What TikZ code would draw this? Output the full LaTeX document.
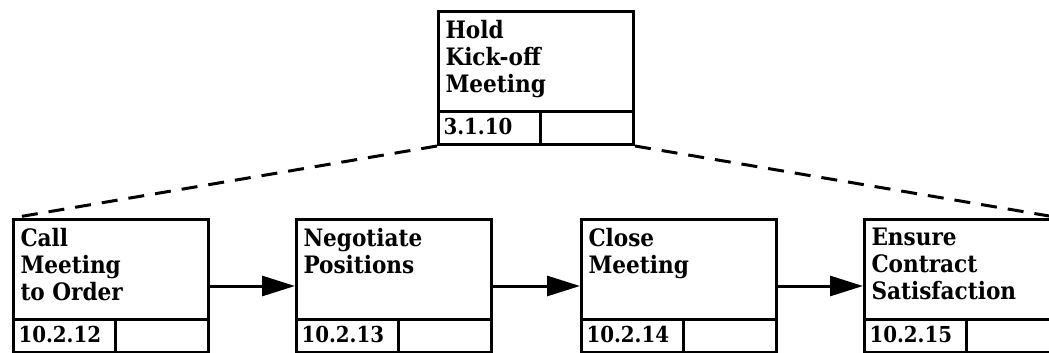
\documentclass[tikz,border=0pt]{standalone}
\usepackage{fontspec}
\setmainfont{DejaVu Serif Condensed}
\usetikzlibrary{arrows.meta,calc}
\newcommand\actbox[5]{%
  \node[actbox] (#1) at (#2,#3) {};
  \draw ($(#1.north west)+(0,101)$) -- ($(#1.north east)+(0,101)$);
  \draw ($(#1.north west)+(103,101)$) -- ($(#1.north west)+(103,133)$);
  \node[titletext] (#1t) at ($(#1.north west)+(7,9)$) {#4};
  \node[numtext] (#1n) at ($(#1.north west)+(5,116.5)$) {#5};
}
\begin{document}
\begin{tikzpicture}[x=1pt,y=-1pt, line width=3pt,
  actbox/.style={draw, rectangle, minimum width=195pt, minimum height=133pt, anchor=north west, inner sep=0pt},
  titletext/.style={anchor=north west, align=left, font=\bfseries\fontsize{24}{27}\selectfont, inner sep=0pt},
  numtext/.style={anchor=west, font=\bfseries\fontsize{22}{27}\selectfont, inner sep=0pt},
  flow/.style={-{Triangle[length=33pt,width=20pt]}},
  decomp/.style={dash pattern=on 16pt off 11pt}]
\clip (0,0) rectangle (1049,353);
\fill[white] (0,0) rectangle (1049,353);
\actbox{top}{437}{10}{Hold\\Kick-off\\Meeting}{3.1.10}
\actbox{b1}{12}{218}{Call\\Meeting\\to Order}{10.2.12}
\actbox{b2}{295}{218}{Negotiate\\Positions}{10.2.13}
\actbox{b3}{580}{218}{Close\\Meeting}{10.2.14}
\actbox{b4}{863}{218}{Ensure\\Contract\\Satisfaction}{10.2.15}
\draw[decomp] (top.south west) -- (b1.north west);
\draw[decomp] (top.south east) -- (b4.north east);
\draw[flow] (b1) -- (b2);
\draw[flow] (b2) -- (b3);
\draw[flow] (b3) -- (b4);
\end{tikzpicture}
\end{document}
